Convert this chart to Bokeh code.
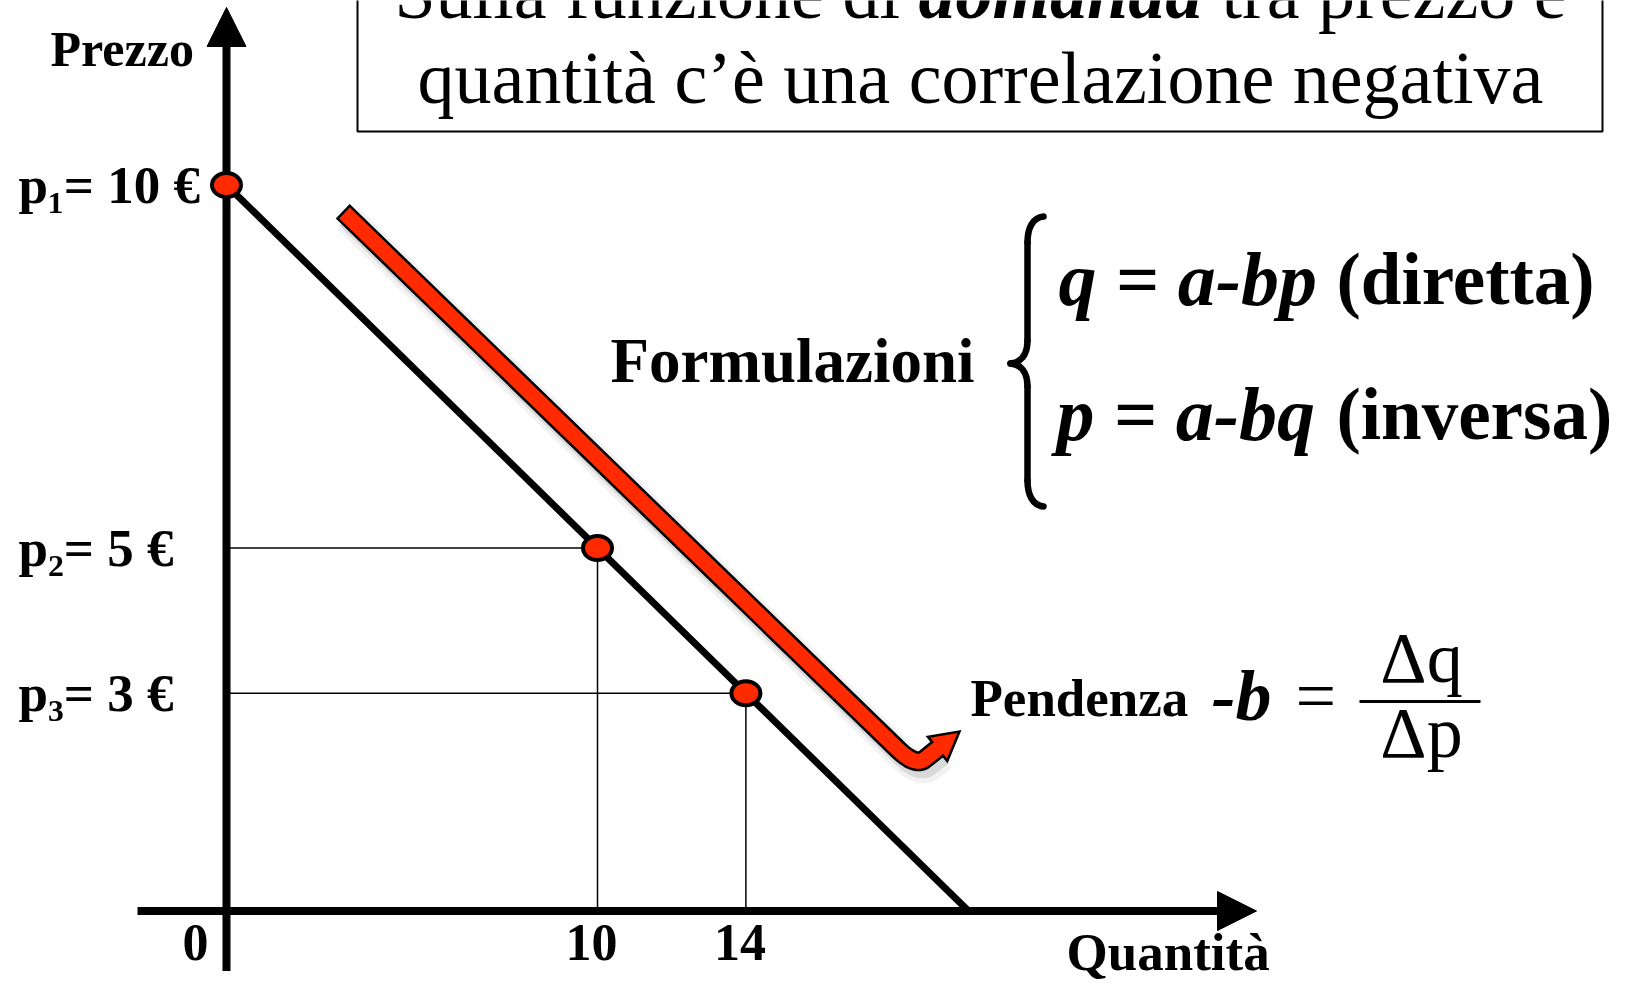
import numpy as np
from bokeh.plotting import figure
from bokeh.models import Range1d, Arrow, NormalHead
from bokeh.core.properties import value
from bokeh.embed import file_html
from bokeh.resources import INLINE

# ---------------------------------------------------------------- data
prices = [10, 5, 3]                      # p1, p2, p3 (euro)
quantities = [0, 10, 14]                 # quantity demanded at each price
price_labels = ["p₁= 10 €", "p₂= 5 €", "p₃= 3 €"]
qty_ticks = [10, 14]
qty_tick_labels = ["10", "14"]
demand_q = [0, 10, 14, 20]               # demand line p = 10 - 0.5 q
demand_p = [10, 5, 3, 0]

# ---------------------------------------------------------------- canvas
W, H = 1636, 984
ORIGIN_X, ORIGIN_Y = 226.0, 910.5        # screen position of q = 0, p = 0
PX_PER_Q = 37.1
PX_PER_P = 72.6
RED = "#FF2A00"
FONT = value("Liberation Serif")


def q_at(px):
    return (px - ORIGIN_X) / PX_PER_Q


def p_at(py):
    return (ORIGIN_Y - py) / PX_PER_P


def lift(size):
    # the text box sits a little low on its alphabetic baseline; pull it back up
    return 0.12 * size + 14


p = figure(width=W, height=H,
           x_range=Range1d(q_at(0), q_at(W)), y_range=Range1d(p_at(H), p_at(0)),
           output_backend="svg", toolbar_location=None,
           x_axis_location=None, y_axis_location=None,
           min_border=0, outline_line_color=None,
           background_fill_color="white", border_fill_color="white")
p.grid.grid_line_color = None
# screen-like space for the annotations (y grows downwards)
p.extra_x_ranges = {"px": Range1d(0, W)}
p.extra_y_ranges = {"px": Range1d(H, 0)}


def txt(x, y, s, size, style="normal", align="left", xr="px", yr="px",
        x_offset=0, y_offset=0):
    p.text(x=x if isinstance(x, list) else [x], y=y if isinstance(y, list) else [y],
           text=s if isinstance(s, list) else [s],
           text_font=FONT, text_font_size=f"{size}px", text_font_style=style,
           text_align=align, text_baseline="alphabetic", text_color="black",
           x_offset=x_offset, y_offset=y_offset - lift(size),
           x_range_name=xr, y_range_name=yr)


# ---------------------------------------------------------------- axes
head_kw = dict(size=39, fill_color="black", line_color="black", line_width=1)
p.add_layout(Arrow(end=NormalHead(**head_kw), x_start=0, y_start=p_at(970.5),
                   x_end=0, y_end=p_at(7), line_width=8, line_color="black",
                   level="underlay"))
p.add_layout(Arrow(end=NormalHead(**head_kw), x_start=q_at(137), y_start=0,
                   x_end=q_at(1256), y_end=0, line_width=8, line_color="black",
                   level="underlay"))

txt(0, 0, "0", 52, "bold", "center", xr="default", yr="default",
    x_offset=-31, y_offset=51.5)
txt(qty_ticks, [962] * len(qty_ticks), qty_tick_labels, 52, "bold", "center",
    xr="default", x_offset=-6)
txt([18] * len(prices), prices, price_labels, 53, "bold", "left",
    yr="default", y_offset=20)
txt(50, 68, "Prezzo", 50, "bold")
txt(1066, 972, "Quantità", 53, "bold")

# ---------------------------------------------------------------- guides, demand, points
inner = [(q, pr) for q, pr in zip(quantities, prices) if q > 0]
p.segment(x0=[0] * len(inner), y0=[pr for _, pr in inner],
          x1=[q for q, _ in inner], y1=[pr for _, pr in inner],
          line_color="black", line_width=1.5)
p.segment(x0=[q for q, _ in inner], y0=[pr for _, pr in inner],
          x1=[q for q, _ in inner], y1=[0] * len(inner),
          line_color="black", line_width=1.5)

p.line(demand_q, demand_p, line_color="black", line_width=7)

p.ellipse(x=quantities, y=prices, width=29, height=24,
          width_units="screen", height_units="screen",
          fill_color=RED, line_color="black", line_width=4)

# ---------------------------------------------------------------- red arrow along the curve
S = np.array([344.0, 212.5])
C = np.array([915.0, 766.0])
T = np.array([959.0, 731.0])
u1 = (C - S) / np.linalg.norm(C - S)
u2 = (T - C) / np.linalg.norm(T - C)
n2 = np.array([-u2[1], u2[0]])
B = T - 28 * u2
P1, P2 = C - 24 * u1, C + 12 * u2
t = np.linspace(0, 1, 10)[:, None]
bend = (1 - t) ** 2 * P1 + 2 * (1 - t) * t * C + t ** 2 * P2
outline_path = np.vstack([S - 2.5 * u1, bend, B])
red_path = np.vstack([S, bend, B + 4 * u2])
head = np.vstack([T, B + 15.5 * n2, B - 15.5 * n2])

for dx, dy, w, a in [(5, 7, 30, 0.05), (4, 6, 22, 0.10)]:
    p.line(outline_path[:, 0] + dx, outline_path[:, 1] + dy, line_color="black",
           line_alpha=a, line_width=w, line_join="round",
           x_range_name="px", y_range_name="px")
p.line(outline_path[:, 0], outline_path[:, 1], line_color="black", line_width=20,
       line_join="round", line_cap="butt", x_range_name="px", y_range_name="px")
p.patch(head[:, 0], head[:, 1], fill_color=RED, line_color="black", line_width=2.5,
        line_join="miter", x_range_name="px", y_range_name="px")
p.line(red_path[:, 0], red_path[:, 1], line_color=RED, line_width=15,
       line_join="round", line_cap="butt", x_range_name="px", y_range_name="px")

# ---------------------------------------------------------------- title box
p.quad(left=[357], right=[1602], top=[-10], bottom=[131], fill_color=None,
       line_color="black", line_width=2, x_range_name="px", y_range_name="px")
txt(899.5, 15, "Sulla funzione di", 74, "normal", "right")
txt(918, 15, "domanda", 74, "bold italic")
txt(1221, 15, "tra prezzo e", 74, "normal")
txt(980, 100, "quantità c’è una correlazione negativa", 74, "normal", "center")

# ---------------------------------------------------------------- formulations
txt(610, 382, "Formulazioni", 63, "bold")
brace = [
    ((1043, 216), (1032, 217), (1027, 228), (1027, 242)),
    ((1027, 242), (1027, 242), (1027, 340), (1027, 340)),
    ((1027, 340), (1027, 355), (1020, 362), (1010, 363)),
    ((1010, 363), (1020, 364), (1027, 371), (1027, 386)),
    ((1027, 386), (1027, 386), (1027, 480), (1027, 480)),
    ((1027, 480), (1027, 494), (1032, 505), (1043, 506)),
]
p.bezier(x0=[b[0][0] for b in brace], y0=[b[0][1] for b in brace],
         cx0=[b[1][0] for b in brace], cy0=[b[1][1] for b in brace],
         cx1=[b[2][0] for b in brace], cy1=[b[2][1] for b in brace],
         x1=[b[3][0] for b in brace], y1=[b[3][1] for b in brace],
         line_color="black", line_width=6.5, line_cap="round",
         x_range_name="px", y_range_name="px")
txt(1058, 302, "q = a-bp", 76, "bold italic")
txt(1336, 302, "(diretta)", 73, "bold")
txt(1056, 437, "p = a-bq", 76, "bold italic")
txt(1336, 437, "(inversa)", 73, "bold")

# ---------------------------------------------------------------- slope
txt(970, 718, "Pendenza", 53, "bold")
txt(1211, 718, "-b", 72, "bold italic")
txt(1295, 718, "=", 72, "normal")
txt(1421, 680, "Δq", 72, "normal", "center")
txt(1421, 755, "Δp", 72, "normal", "center")
p.segment(x0=[1359], y0=[701], x1=[1480], y1=[701], line_color="black",
          line_width=3, x_range_name="px", y_range_name="px")

with open("out.html", "w", encoding="utf-8") as fh:
    fh.write(file_html(p, INLINE))
